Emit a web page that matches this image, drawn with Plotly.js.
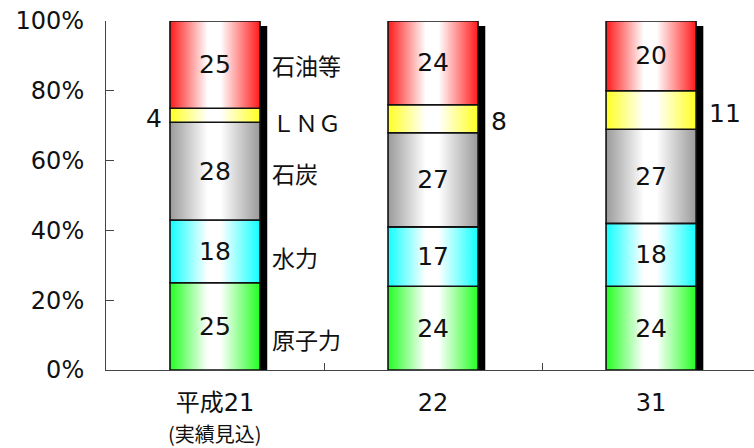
<!DOCTYPE html>
<html><head><meta charset="utf-8">
<script src="https://cdn.plot.ly/plotly-3.0.1.min.js"></script>
<style>html,body{margin:0;padding:0;background:#fff}#chart{width:754px;height:448px}</style>
</head><body><div id="chart"></div>
<script>
// ---- data ----
const categories = ['平成21', '22', '31'];
const categoryNote = '(実績見込)';
const seriesNames = ['原子力', '水力', '石炭', 'ＬＮＧ', '石油等'];
const nuclear = [25, 24, 24];
const hydro = [18, 17, 18];
const coal = [28, 27, 27];
const lng = [4, 8, 11];
const oil = [25, 24, 20];
const yTickVals = [0, 20, 40, 60, 80, 100];
const yTickText = ['0%', '20%', '40%', '60%', '80%', '100%'];

// ---- style ----
const seriesValues = [nuclear, hydro, coal, lng, oil];
const edgeColors = ['#22ff22', '#11ffff', '#9a9a9a', '#ffff22', '#ff1a1a'];
const gradIds = ['gNuc', 'gHyd', 'gCoal', 'gLng', 'gOil'];
const FONT = "'DejaVu Sans', 'Noto Sans CJK JP', sans-serif";
const JFONT = "'Noto Sans CJK JP', sans-serif";
const BW = 0.413;

const totals = categories.map((_, i) => seriesValues.reduce((s, arr) => s + arr[i], 0));
const bases = seriesValues.map((arr, k) => categories.map((_, i) => {
  let b = 0; for (let j = 0; j < k; j++) b += seriesValues[j][i]; return b;
}));

const traces = [];
// shadow
traces.push({
  type: 'bar', x: categories, y: totals.map(t => t - 1.4), base: 0,
  width: BW, offset: -BW / 2 + 0.033,
  marker: {color: '#000', line: {width: 0}}, hoverinfo: 'skip', showlegend: false
});
seriesValues.forEach((arr, k) => {
  traces.push({
    type: 'bar', name: seriesNames[k], x: categories, y: arr, base: bases[k],
    width: BW,
    marker: {color: edgeColors[k], line: {color: '#111', width: 1.6}},
    text: k === 3 ? arr.map(() => '') : arr.map(String),
    textposition: 'inside', insidetextanchor: 'middle',
    textfont: {family: FONT, size: 25, color: '#111'},
    textangle: 0,
    showlegend: false
  });
});

const annotations = [];
// LNG values beside bars
lng.forEach((v, i) => {
  annotations.push({
    x: i, y: bases[3][i] + v / 2, xref: 'x', yref: 'y',
    text: String(v), showarrow: false,
    xanchor: i === 0 ? 'right' : 'left', xshift: i === 0 ? -51 : 56,
    yshift: -3,
    font: {family: FONT, size: 25, color: '#111'}
  });
});
// series names beside first bar
const nameShift = [-13, -6, -2, -7, 0];
seriesNames.forEach((n, k) => {
  annotations.push({
    x: 0, y: bases[k][0] + seriesValues[k][0] / 2, xref: 'x', yref: 'y',
    text: n, showarrow: false, xanchor: 'left', xshift: 55, yshift: nameShift[k],
    font: {family: JFONT, size: 23, color: '#111'}
  });
});
// note under first category
annotations.push({
  x: 0, y: 0, xref: 'x', yref: 'y', text: categoryNote, showarrow: false,
  xanchor: 'center', yanchor: 'top', yshift: -48, borderpad: 0,
  font: {family: JFONT, size: 20, color: '#111'}
});

const layout = {
  width: 754, height: 448,
  margin: {l: 106, r: 0, t: 21, b: 78, pad: 0},
  paper_bgcolor: '#fff', plot_bgcolor: '#fff',
  barmode: 'overlay',
  xaxis: {
    type: 'category', range: [-0.5, 2.472], tickson: 'boundaries',
    ticks: 'inside', ticklen: 7, tickcolor: '#444', tickwidth: 1,
    showline: true, linecolor: '#444', linewidth: 1, showgrid: false, zeroline: false,
    tickfont: {family: FONT, size: 24, color: '#111'}, ticklabelstandoff: 11
  },
  yaxis: {
    range: [0, 100], tickvals: yTickVals, ticktext: yTickText,
    ticks: 'inside', ticklen: 8, tickcolor: '#444', tickwidth: 1,
    showline: true, linecolor: '#444', linewidth: 1, showgrid: false, zeroline: false,
    tickfont: {family: FONT, size: 24, color: '#111'}, ticklabelstandoff: 16
  },
  annotations: annotations,
  showlegend: false
};

function applyGradients(gd) {
  const svg = gd.querySelector('.main-svg');
  const ns = 'http://www.w3.org/2000/svg';
  let defs = svg.querySelector('defs#gradDefs');
  if (!defs) { defs = document.createElementNS(ns, 'defs'); defs.id = 'gradDefs'; svg.insertBefore(defs, svg.firstChild); }
  defs.innerHTML = '';
  edgeColors.forEach((c, k) => {
    const lg = document.createElementNS(ns, 'linearGradient');
    lg.setAttribute('id', gradIds[k]);
    lg.setAttribute('x1', '0'); lg.setAttribute('x2', '1'); lg.setAttribute('y1', '0'); lg.setAttribute('y2', '0');
    [[0, c], [0.42, '#ffffff'], [0.56, '#ffffff'], [1, c]].forEach(([o, col]) => {
      const s = document.createElementNS(ns, 'stop');
      s.setAttribute('offset', o); s.setAttribute('stop-color', col);
      lg.appendChild(s);
    });
    defs.appendChild(lg);
  });
  const groups = gd.querySelectorAll('.barlayer .trace');
  groups.forEach((g, ti) => {
    if (ti === 0) return;
    g.querySelectorAll('.point path').forEach(p => { p.style.fill = 'url(#' + gradIds[ti - 1] + ')'; });
  });
}

Plotly.newPlot('chart', traces, layout, {staticPlot: true}).then(applyGradients);
</script></body></html>
